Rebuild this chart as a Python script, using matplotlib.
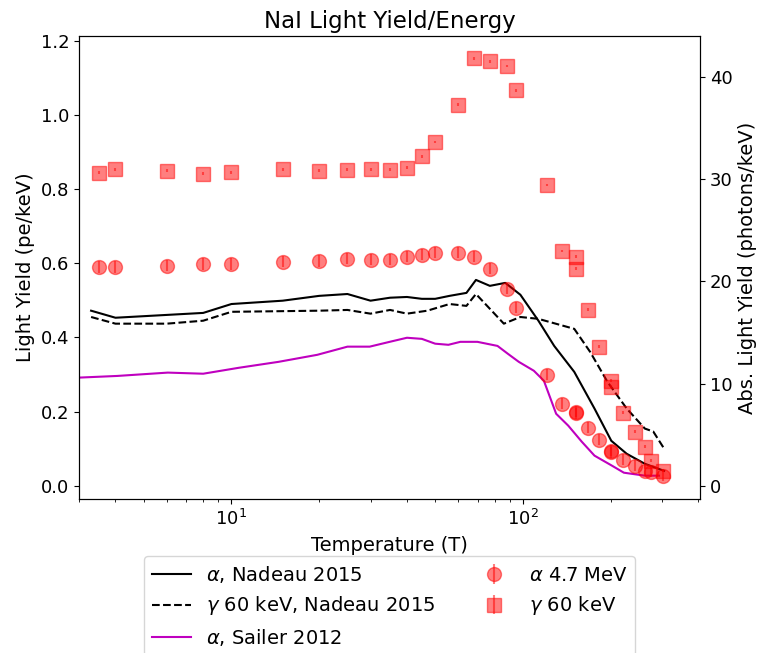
import matplotlib
matplotlib.use("Agg")
import matplotlib.pyplot as plt

# =========================
# data
# =========================
T_MEAS = [3.5, 4, 6, 8, 10, 15, 20, 25, 30, 35, 40, 45, 50, 60, 68, 77, 88, 95,
          121, 136, 152, 152, 167, 182, 201, 201, 221, 243, 263, 275, 303]

LY_ALPHA = [0.590, 0.590, 0.593, 0.598, 0.598, 0.604, 0.606, 0.612, 0.609, 0.609,
            0.617, 0.623, 0.628, 0.628, 0.617, 0.585, 0.531, 0.480,
            0.299, 0.221, 0.200, 0.195, 0.156, 0.124, 0.094, 0.090, 0.070, 0.054,
            0.040, 0.038, 0.027]
ERR_ALPHA = [0.015] * len(LY_ALPHA)

LY_GAMMA = [0.844, 0.854, 0.849, 0.841, 0.846, 0.854, 0.849, 0.852, 0.854, 0.852,
            0.857, 0.889, 0.927, 1.027, 1.153, 1.145, 1.132, 1.067,
            0.811, 0.633, 0.617, 0.585, 0.474, 0.375, 0.283, 0.267, 0.197, 0.146,
            0.105, 0.067, 0.040]
ERR_GAMMA = [0.004] * len(LY_GAMMA)

T_NAD_A = [3.3, 4, 8, 10, 15, 20, 25, 30, 35, 40, 45, 50, 56, 64, 69, 77, 87, 98,
           113, 128, 150, 176, 201, 227, 262, 305]
LY_NAD_A = [0.472, 0.453, 0.466, 0.490, 0.499, 0.512, 0.517, 0.499, 0.507, 0.509,
            0.504, 0.504, 0.512, 0.520, 0.555, 0.539, 0.547, 0.515,
            0.445, 0.377, 0.307, 0.208, 0.121, 0.086, 0.059, 0.040]

T_NAD_G = [3.3, 4, 6, 8, 10, 20, 25, 30, 35, 40, 47, 56, 64, 69, 86, 98, 113, 150,
           170, 195, 227, 262, 280, 305]
LY_NAD_G = [0.455, 0.437, 0.437, 0.445, 0.469, 0.472, 0.474, 0.464, 0.474, 0.464,
            0.472, 0.490, 0.485, 0.517, 0.437, 0.455, 0.450, 0.423,
            0.361, 0.280, 0.208, 0.154, 0.146, 0.100]

T_SAILER = [2.9, 4.06, 6.05, 8.0, 10.6, 14.5, 19.7, 25, 29.8, 34.9, 40, 45, 50, 55.5,
            61, 69.8, 81.8, 88.7, 96.8, 109, 118, 130, 143, 159, 176, 202, 222,
            262, 293]
LY_SAILER = [0.291, 0.296, 0.305, 0.302, 0.318, 0.334, 0.353, 0.375, 0.375, 0.388,
             0.399, 0.396, 0.383, 0.380, 0.388, 0.388, 0.377, 0.356, 0.334, 0.310,
             0.283, 0.194, 0.162, 0.119, 0.081, 0.054, 0.035, 0.027, 0.027]

PE_PER_PHOTON = 0.02755  # left axis units per right axis unit

# =========================
# plot
# =========================
plt.rcParams["font.size"] = 14
plt.rcParams["xtick.labelsize"] = 13
plt.rcParams["ytick.labelsize"] = 13

fig = plt.figure(figsize=(7.57, 6.53), dpi=100)
ax = fig.add_axes([0.1044, 0.2358, 0.8203, 0.7091])

ax.plot(T_NAD_A, LY_NAD_A, "k-", label=r"$\alpha$, Nadeau 2015")
ax.plot(T_NAD_G, LY_NAD_G, "k--", label=r"$\gamma$ 60 keV, Nadeau 2015")
ax.plot(T_SAILER, LY_SAILER, "m-", label=r"$\alpha$, Sailer 2012")
ax.errorbar(T_MEAS, LY_ALPHA, yerr=ERR_ALPHA, fmt="o", color="r", alpha=0.5,
            markersize=10, label=r"$\alpha$ 4.7 MeV")
ax.errorbar(T_MEAS, LY_GAMMA, yerr=ERR_GAMMA, fmt="s", color="r", alpha=0.5,
            markersize=10, label=r"$\gamma$ 60 keV")

ax.set_xscale("log")
ax.set_xlim(3.0, 405)
ax.set_ylim(-0.036, 1.213)
ax.set_xlabel("Temperature (T)", labelpad=5)
ax.set_ylabel("Light Yield (pe/keV)")
ax.set_title("NaI Light Yield/Energy", fontsize=16.5)

ax2 = ax.twinx()
lo, hi = ax.get_ylim()
ax2.set_ylim(lo / PE_PER_PHOTON, hi / PE_PER_PHOTON)
ax2.set_ylabel("Abs. Light Yield (photons/keV)")

ax.legend(loc="upper center", bbox_to_anchor=(0.5, -0.102), ncol=2)

fig.savefig("out.png", dpi=100)
